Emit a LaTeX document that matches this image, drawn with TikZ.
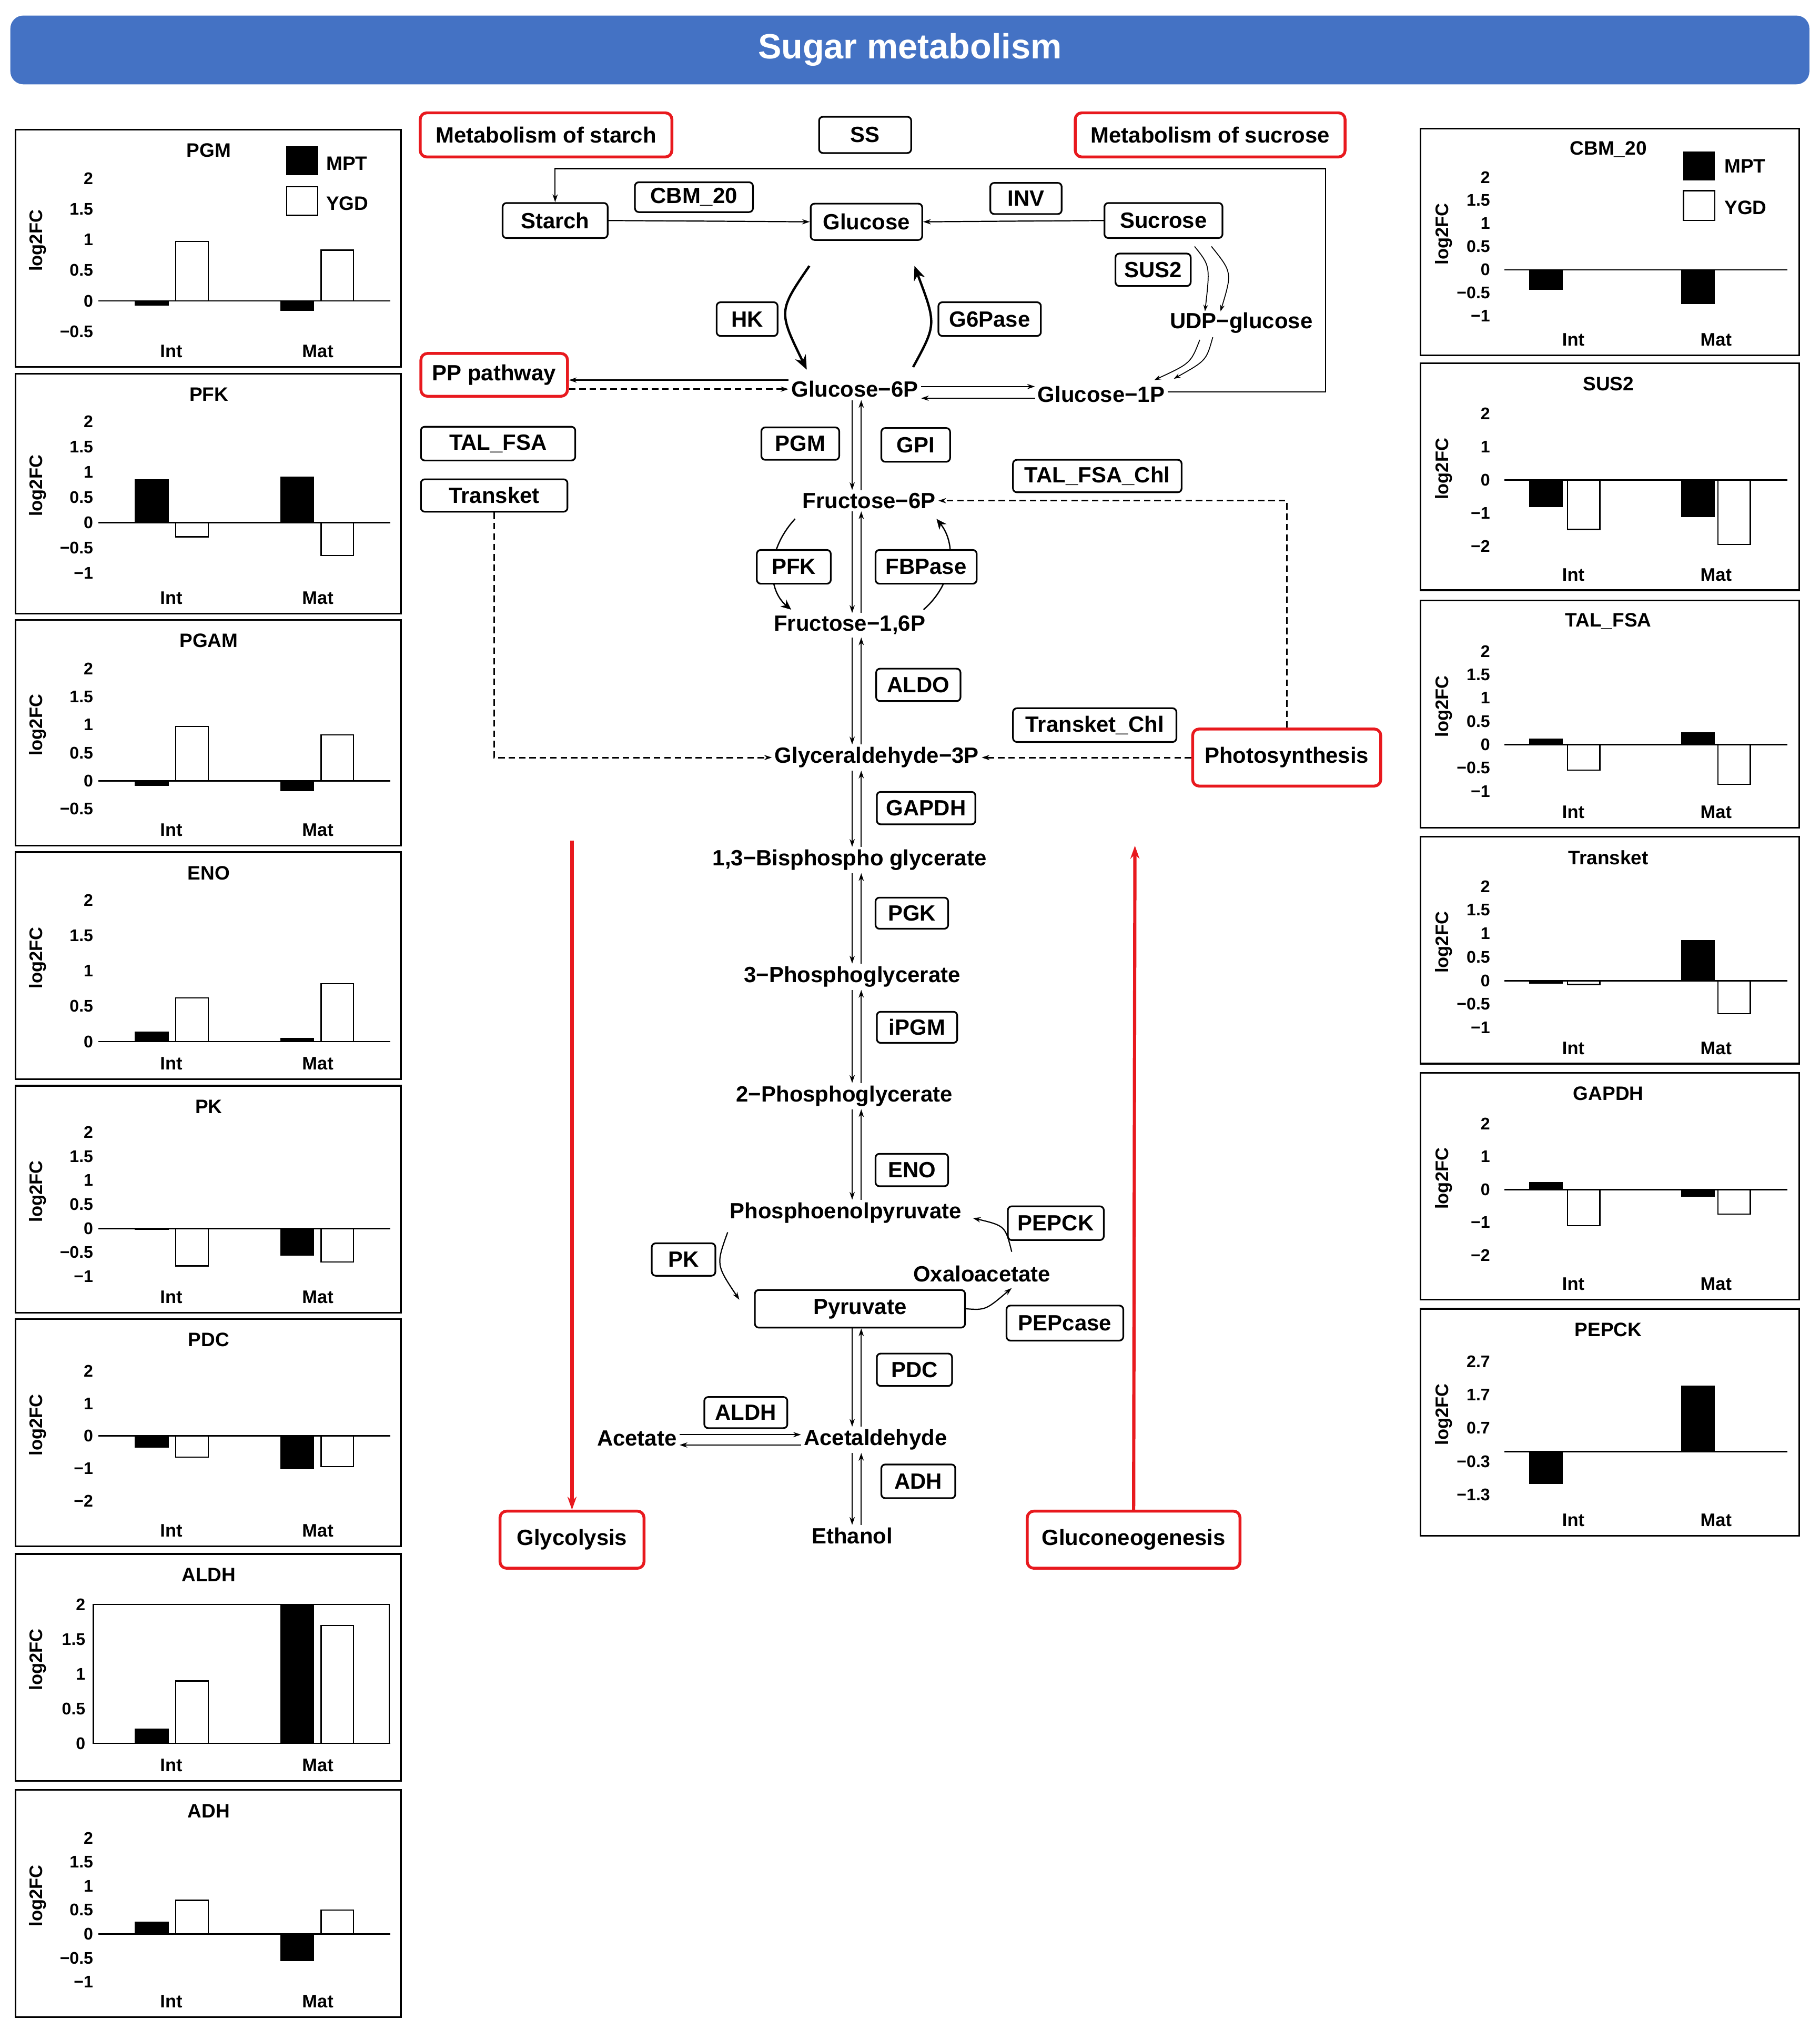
\documentclass[tikz,border=0pt]{standalone}
\usepackage{fontspec}
\setmainfont{Liberation Sans}
\usetikzlibrary{arrows.meta,calc}
\pgfdeclarelayer{bgz}\pgfdeclarelayer{bg}\pgfsetlayers{bgz,bg,main}
\definecolor{hdr}{HTML}{4472C4}
\definecolor{rd}{HTML}{E8191E}
\tikzset{
 enz/.style={draw,fill=white,rounded corners=3pt,line width=1.3pt,font=\fontsize{17}{17}\selectfont\bfseries,inner sep=0pt},
 rbox/.style={draw=rd,fill=white,rounded corners=5pt,line width=2.2pt,font=\fontsize{17}{17}\selectfont\bfseries,inner sep=0pt},
 met/.style={font=\fontsize{17}{17}\selectfont\bfseries,inner sep=2pt},
 pan/.style={line width=1.3pt},
 ct/.style={font=\fontsize{15}{15}\selectfont\bfseries},
 tk/.style={font=\fontsize{13}{13}\selectfont\bfseries,inner sep=0pt},
 ax/.style={font=\fontsize{14}{14}\selectfont\bfseries,inner sep=0pt},
 ar/.style={-{Stealth[length=6pt,width=4pt]},line width=0.9pt},
 dar/.style={ar,line width=1.2pt,dash pattern=on 5pt off 3pt},
 thk/.style={-{Stealth[length=11pt,width=9pt]},line width=1.8pt},
 red/.style={-{Stealth[length=10pt,width=7pt]},draw=rd,line width=2.5pt},
}
\newcommand\Pnl[6]{\def\px{#1}\def\py{#2}\def\pz{#5}\def\ps{#6}%
 \draw[pan] (#1,#2) rectangle ++(\pw,#3);
 \node[ct] at (#1+\tx,#2+16) {#4};
 \node[ax,rotate=90] at (#1+\lx,#2+#3/2-6) {log2FC};
 \node[ax] at (#1+\il,#2+#3-12) {Int};
 \node[ax] at (#1+\ml,#2+#3-12) {Mat};}
\newcommand\Tk[1]{\foreach \v/\t in {#1}{\node[tk,anchor=east] at (\px+\kx,\pz-\v*\ps) {\t};}}
\newcommand\Br[4]{\foreach \c/\v/\f in {\ia/#1/black,\ib/#2/white,\ma/#3/black,\mb/#4/white}{%
  \draw[fill=\f,line width=1pt] (\px+\c-12.5,\pz) rectangle (\px+\c+12.5,\pz-\v*\ps);}
 \draw[line width=1.1pt] (\px+\ax,\pz) -- (\px+\bx,\pz);}
\begin{document}
\begin{tikzpicture}[x=1pt,y=-1pt]
\begin{pgfonlayer}{bgz}\fill[white] (0,0) rectangle (1403,1565);\end{pgfonlayer}
\useasboundingbox (0,0) rectangle (1403,1565);
% header
\node[fill=hdr,rounded corners=10pt,minimum width=1387,minimum height=53,text=white,font=\fontsize{27}{27}\selectfont\bfseries] (hd) at (701.5,38.5) {Sugar metabolism};
% ---------- left panels
\def\pw{297}\def\tx{149}\def\lx{17}\def\kx{60}\def\ax{64}\def\bx{289}
\def\ia{105}\def\ib{136}\def\ma{217}\def\mb{248}\def\il{120}\def\ml{233}
\Pnl{12}{100}{183}{PGM}{232}{47.2}
\Tk{2/2,1.5/1.5,1/1,0.5/0.5,0/0,-0.5/−0.5}\Br{-0.07}{0.97}{-0.15}{0.83}
\draw[fill=black] (221,113) rectangle (245,135); \draw[fill=white,line width=1pt] (221,144) rectangle (245,166);
\node[ct,anchor=west] at (248,126) {MPT}; \node[ct,anchor=west] at (248,157) {YGD};
\Pnl{12}{288}{185}{PFK}{403}{39}
\Tk{2/2,1.5/1.5,1/1,0.5/0.5,0/0,-0.5/−0.5,-1/−1}\Br{0.85}{-0.28}{0.9}{-0.65}
\Pnl{12}{478}{174}{PGAM}{602}{43.2}
\Tk{2/2,1.5/1.5,1/1,0.5/0.5,0/0,-0.5/−0.5}\Br{-0.08}{0.97}{-0.17}{0.82}
\Pnl{12}{657}{175}{ENO}{803}{54.5}
\Tk{2/2,1.5/1.5,1/1,0.5/0.5,0/0}\Br{0.13}{0.62}{0.04}{0.82}
\Pnl{12}{837}{175}{PK}{947}{37}
\Tk{2/2,1.5/1.5,1/1,0.5/0.5,0/0,-0.5/−0.5,-1/−1}\Br{-0.02}{-0.78}{-0.55}{-0.7}
\Pnl{12}{1017}{175}{PDC}{1107}{25}
\Tk{2/2,1/1,0/0,-1/−1,-2/−2}\Br{-0.35}{-0.65}{-1.0}{-0.95}
\Pnl{12}{1198}{175}{ALDH}{1344}{53.5}
\draw[line width=1pt] (72,1237) rectangle (300,1344);
\def\kx{54}
\Tk{2/2,1.5/1.5,1/1,0.5/0.5,0/0}\Br{0.2}{0.9}{2.0}{1.7}
\def\kx{60}
\Pnl{12}{1380}{175}{ADH}{1491}{37}
\Tk{2/2,1.5/1.5,1/1,0.5/0.5,0/0,-0.5/−0.5,-1/−1}\Br{0.25}{0.7}{-0.55}{0.5}
% ---------- right panels
\def\pw{292}\def\tx{145}\def\lx{18}\def\kx{54}\def\ax{65}\def\bx{283}
\def\ia{97}\def\ib{126}\def\ma{214}\def\mb{242}\def\il{118}\def\ml{228}
\Pnl{1095}{99}{175}{CBM\_20}{208}{35.7}
\Tk{2/2,1.5/1.5,1/1,0.5/0.5,0/0,-0.5/−0.5,-1/−1}\Br{-0.42}{0}{-0.72}{0}
\draw[fill=black] (1298,117) rectangle (1322,139); \draw[fill=white,line width=1pt] (1298,147) rectangle (1322,170);
\node[ct,anchor=west] at (1326,128) {MPT}; \node[ct,anchor=west] at (1326,160) {YGD};
\Pnl{1095}{280}{175}{SUS2}{370}{25.5}
\Tk{2/2,1/1,0/0,-1/−1,-2/−2}\Br{-0.8}{-1.5}{-1.1}{-1.95}
\Pnl{1095}{463}{175}{TAL\_FSA}{574}{36}
\Tk{2/2,1.5/1.5,1/1,0.5/0.5,0/0,-0.5/−0.5,-1/−1}\Br{0.12}{-0.55}{0.25}{-0.85}
\Pnl{1095}{645}{175}{Transket}{756}{36.3}
\Tk{2/2,1.5/1.5,1/1,0.5/0.5,0/0,-0.5/−0.5,-1/−1}\Br{-0.05}{-0.08}{0.85}{-0.7}
\Pnl{1095}{827}{175}{GAPDH}{917}{25.3}
\Tk{2/2,1/1,0/0,-1/−1,-2/−2}\Br{0.2}{-1.1}{-0.2}{-0.75}
\Pnl{1095}{1009}{175}{PEPCK}{1119}{25.75}
\Tk{2.7/2.7,1.7/1.7,0.7/0.7,-0.3/−0.3,-1.3/−1.3}\Br{-0.95}{0}{1.95}{0}
% ---------- center
\node[rbox,minimum width=194,minimum height=34] (mst) at (421,104) {Metabolism of starch};
\node[enz,minimum width=71,minimum height=28] (ss) at (667,104) {SS};
\node[rbox,minimum width=208,minimum height=34] (msu) at (933,104) {Metabolism of sucrose};
\node[enz,minimum width=81,minimum height=27] (starch) at (428,170) {Starch};
\node[enz,minimum width=91,minimum height=23] (cbm) at (535,152) {CBM\_20};
\node[enz,minimum width=86,minimum height=28] (glc) at (668,171) {Glucose};
\node[enz,minimum width=55,minimum height=24] (inv) at (791,153) {INV};
\node[enz,minimum width=91,minimum height=27] (suc) at (897,170) {Sucrose};
\node[enz,minimum width=58,minimum height=25] (sus) at (889,208) {SUS2};
\node[met] (udp) at (957,249) {UDP−glucose};
\node[enz,minimum width=47,minimum height=26] (hk) at (576,246) {HK};
\node[enz,minimum width=79,minimum height=26] (g6pase) at (763,246) {G6Pase};
\node[met] (g6p) at (659,300) {Glucose−6P};
\node[met] (g1p) at (849,304) {Glucose−1P};
\node[rbox,minimum width=113,minimum height=33] (pp) at (381,289) {PP pathway};
\node[enz,minimum width=119,minimum height=26] (tal) at (384,342) {TAL\_FSA};
\node[enz,minimum width=113,minimum height=25] (tk) at (381,382) {Transket};
\node[enz,minimum width=60,minimum height=25] (pgm) at (617,342) {PGM};
\node[enz,minimum width=53,minimum height=26] (gpi) at (706,343) {GPI};
\node[met] (f6p) at (670,386) {Fructose−6P};
\node[enz,minimum width=130,minimum height=25] (talc) at (846,367) {TAL\_FSA\_Chl};
\node[enz,minimum width=57,minimum height=26] (pfk) at (612,437) {PFK};
\node[enz,minimum width=78,minimum height=26] (fbp) at (714,437) {FBPase};
\node[met] (f16) at (655,482) {Fructose−1,6P};
\node[enz,minimum width=65,minimum height=25] (aldo) at (708,528) {ALDO};
\node[met] (gap) at (676,584) {Glyceraldehyde−3P};
\node[enz,minimum width=126,minimum height=26] (tkc) at (844,559) {Transket\_Chl};
\node[rbox,minimum width=145,minimum height=44] (ps) at (992,584) {Photosynthesis};
\node[enz,minimum width=76,minimum height=25] (gapdh) at (714,623) {GAPDH};
\node[met] (bpg) at (655,663) {1,3−Bisphospho glycerate};
\node[enz,minimum width=56,minimum height=24] (pgk) at (703,704) {PGK};
\node[met] (pg3) at (657,753) {3−Phosphoglycerate};
\node[enz,minimum width=62,minimum height=24] (ipgm) at (707,792) {iPGM};
\node[met] (pg2) at (651,845) {2−Phosphoglycerate};
\node[enz,minimum width=56,minimum height=25] (eno) at (703,902) {ENO};
\node[met] (pep) at (652,935) {Phosphoenolpyruvate};
\node[enz,minimum width=74,minimum height=26] (pepck) at (814,943) {PEPCK};
\node[enz,minimum width=49,minimum height=25] (pk) at (527,971) {PK};
\node[met] (oaa) at (757,982) {Oxaloacetate};
\node[enz,minimum width=162,minimum height=29] (pyr) at (663,1009) {Pyruvate};
\node[enz,minimum width=90,minimum height=27] (pepc) at (821,1020) {PEPcase};
\node[enz,minimum width=58,minimum height=25] (pdc) at (705,1056) {PDC};
\node[met] (acal) at (675,1110) {Acetaldehyde};
\node[met] (ac) at (491,1109) {Acetate};
\node[enz,minimum width=64,minimum height=24] (aldh) at (575,1089) {ALDH};
\node[enz,minimum width=57,minimum height=26] (adh) at (708,1142) {ADH};
\node[met] (eth) at (657,1184) {Ethanol};
\node[rbox,minimum width=111,minimum height=44] (gly) at (441,1187) {Glycolysis};
\node[rbox,minimum width=164,minimum height=44] (gng) at (874,1187) {Gluconeogenesis};
% connectors
\begin{pgfonlayer}{bg}
\coordinate (tl) at (428,130); \coordinate (tr) at (1022,130); \coordinate (br) at (1022,302);
\draw[ar] (g1p.east |- br) -- (br) -- (tr) -- (tl) -- (starch.north);
\draw[ar] (starch.east) -- (glc.west);
\draw[ar] (suc.west) -- (glc.east);
\draw[-{Stealth[length=5pt,width=3.5pt]},line width=0.7pt] (921,190) .. controls (933,205) .. (929,240);
\draw[-{Stealth[length=5pt,width=3.5pt]},line width=0.7pt] (934,190) .. controls (950,210) .. (941,240);
\draw[-{Stealth[length=5pt,width=3.5pt]},line width=0.7pt] (935,260) .. controls (930,278) .. (905,292);
\draw[-{Stealth[length=5pt,width=3.5pt]},line width=0.7pt] (925,262) .. controls (918,280) .. (890,293);
\draw[thk] (624,205) .. controls (600,240) .. (622,285);
\draw[thk] (704,283) .. controls (722,250) .. (705,205);
\coordinate (ya) at (0,298); \coordinate (yb) at (0,307);
\coordinate (yc) at (0,293); \coordinate (yd) at (0,300);
\draw[ar] (g6p.east |- ya) -- (g1p.west |- ya);
\draw[ar] (g1p.west |- yb) -- (g6p.east |- yb);
\draw[ar] (g6p.west |- yc) -- (pp.east |- yc);
\draw[dar] (pp.east |- yd) -- (g6p.west |- yd);
\draw[dar] (tk.south) -- (tk.south |- gap.west) -- (gap.west);
\draw[dar] (ps.north) -- (ps.north |- f6p.east) -- (f6p.east);
\draw[dar] (ps.west) -- (gap.east);
\coordinate (cx) at (657,0); \coordinate (cy) at (664,0);
\foreach \a/\b in {g6p/f6p,f6p/f16,f16/gap,gap/bpg,bpg/pg3,pg3/pg2,pg2/pep,pyr/acal,acal/eth}{
 \draw[ar] (cx |- \a.south) -- (cx |- \b.north);
 \draw[ar] (cy |- \b.north) -- (cy |- \a.south);}
\draw[-{Stealth[length=8pt,width=7pt]},line width=1pt] (613,400) .. controls (590,425) and (592,455) .. (610,470);
\draw[-{Stealth[length=8pt,width=7pt]},line width=1pt] (712,470) .. controls (735,450) and (738,420) .. (722,400);
\draw[ar] (561,950) .. controls (552,975) .. (570,1002);
\draw[ar] (780,965) .. controls (775,945) .. (750,939);
\draw[ar] (pyr.east) .. controls (760,1010) .. (780,993);
\coordinate (ye) at (0,1106); \coordinate (yf) at (0,1114);
\draw[ar] (ac.east |- ye) -- (acal.west |- ye);
\draw[ar] (acal.west |- yf) -- (ac.east |- yf);
\end{pgfonlayer}
\coordinate (g0) at (441,648); \coordinate (n0) at (875,652);
\draw[red] (g0) -- (gly.north);
\draw[red] (gng.north) -- (n0);
\end{tikzpicture}
\end{document}
